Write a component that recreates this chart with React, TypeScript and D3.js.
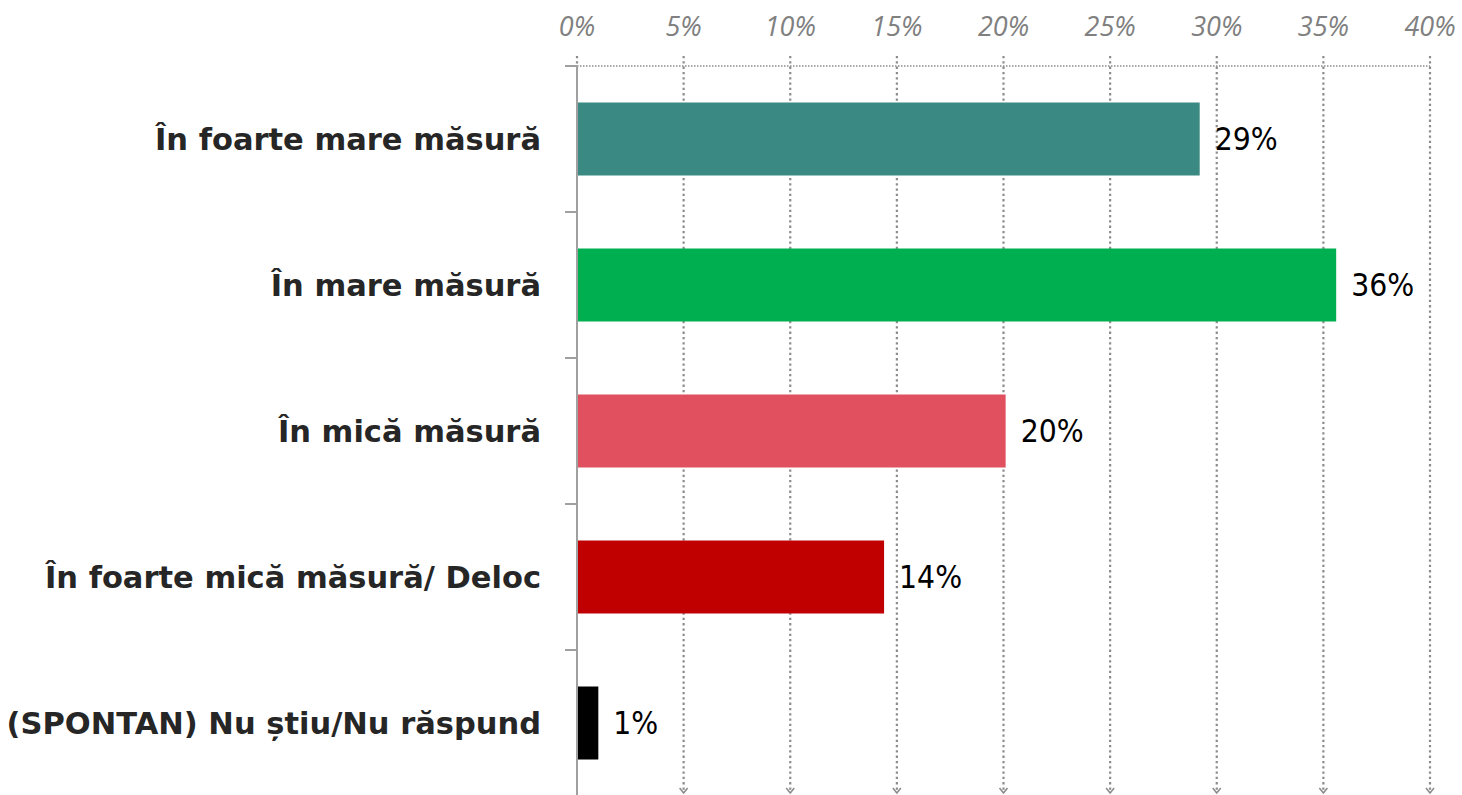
import React from 'react';
import * as d3 from 'd3';

const categories = [
  'În foarte mare măsură',
  'În mare măsură',
  'În mică măsură',
  'În foarte mică măsură/ Deloc',
  '(SPONTAN) Nu știu/Nu răspund',
];
const values = [29.2, 35.6, 20.1, 14.4, 1.0];
const valueLabels = ['29%', '36%', '20%', '14%', '1%'];
const colors = ['#3a8983', '#00b050', '#e0505e', '#c00000', '#000000'];
const ticks = [0, 5, 10, 15, 20, 25, 30, 35, 40];

const W = 1462;
const H = 795;

const App: React.FC = () => {
  const x = d3.scaleLinear().domain([0, 40]).range([577, 1430]);
  const y = d3.scaleBand<string>().domain(categories).range([66, 796]).paddingInner(0.5).paddingOuter(0.25);
  const step = y.step();
  const top = 66;
  const bottom = 794;

  return (
    <div style={{ position: 'absolute', left: 0, top: 0 }}>
      <svg width={W} height={H} style={{ display: 'block' }}>
        {/* vertical gridlines with arrow heads */}
        {ticks.slice(1).map((t) => (
          <g key={t}>
            <line x1={x(t)} x2={x(t)} y1={56} y2={bottom - 1} stroke="#8c8c8c" strokeWidth={2.2} strokeDasharray="2.3 3" />
            <path d={`M${x(t) - 4},${bottom - 6} L${x(t)},${bottom - 1} L${x(t) + 4},${bottom - 6}`} fill="none" stroke="#8c8c8c" strokeWidth={1.6} />
          </g>
        ))}
        <line x1={x(0)} x2={x(0)} y1={56} y2={top} stroke="#8c8c8c" strokeWidth={2.2} strokeDasharray="2.3 3" />
        {/* top dotted line */}
        <line x1={x(0)} x2={x(40)} y1={top} y2={top} stroke="#8c8c8c" strokeWidth={1.5} strokeDasharray="1.5 1.5" />
        {/* tick labels */}
        {ticks.map((t) => (
          <text key={t} x={x(t)} y={36} textAnchor="middle" fontFamily="'Open Sans', sans-serif" fontStyle="italic" fontSize={27} fill="#808080">
            {t}%
          </text>
        ))}
        {/* bars */}
        {categories.map((c, i) => (
          <rect key={c} x={x(0)} y={y(c)!} width={x(values[i]) - x(0)} height={y.bandwidth()} fill={colors[i]} />
        ))}
        {/* axis line and ticks */}
        <line x1={x(0)} x2={x(0)} y1={top} y2={H} stroke="#a0a0a0" strokeWidth={2} />
        {categories.map((c) => (
          <line key={c} x1={x(0) - 12} x2={x(0)} y1={y(c)! - step / 4} y2={y(c)! - step / 4} stroke="#a0a0a0" strokeWidth={2} />
        ))}
        {/* category labels */}
        {categories.map((c) => (
          <text key={c} x={541} y={y(c)! + y.bandwidth() / 2} dy="0.36em" textAnchor="end" fontFamily="'DejaVu Sans', sans-serif" fontWeight="bold" fontSize={30.5} fill="#262626">
            {c}
          </text>
        ))}
        {/* value labels */}
        {categories.map((c, i) => (
          <text key={c} x={x(values[i]) + 15} y={y(c)! + y.bandwidth() / 2} dy="0.36em" fontFamily="'Liberation Sans Narrow', 'DejaVu Sans Condensed', sans-serif" fontSize={31.5} fill="#000">
            {valueLabels[i]}
          </text>
        ))}
      </svg>
    </div>
  );
};

export default App;
